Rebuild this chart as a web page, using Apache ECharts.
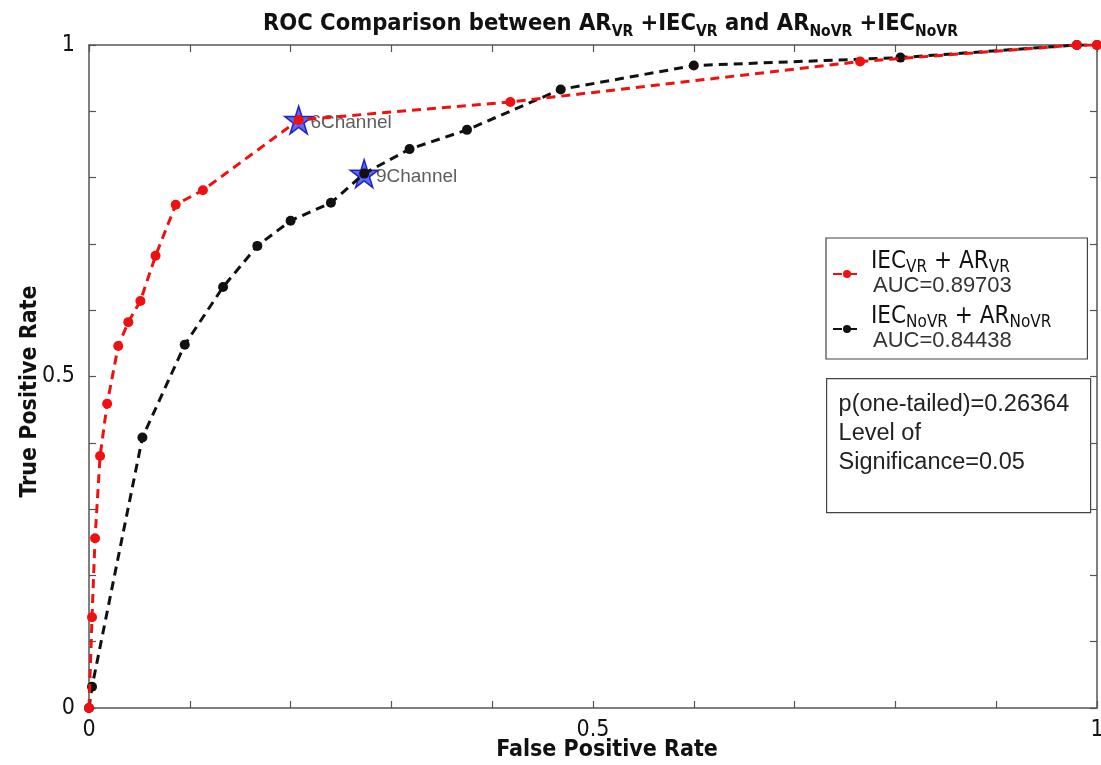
<!DOCTYPE html>
<html><head><meta charset="utf-8">
<script src="https://cdn.jsdelivr.net/npm/echarts@6/dist/echarts.min.js"></script>
<style>html,body{margin:0;padding:0;background:#fff}#c{width:1101px;height:765px}</style>
</head><body><div id="c"></div>
<script>
// ---- data ----
const redFPR = [0, 0.003, 0.006, 0.011, 0.018, 0.029, 0.039, 0.051, 0.066, 0.086, 0.113, 0.208, 0.418, 0.765, 0.980, 1.0];
const redTPR = [0, 0.137, 0.256, 0.380, 0.459, 0.546, 0.582, 0.614, 0.682, 0.759, 0.781, 0.887, 0.914, 0.975, 1.0, 1.0];
const blackFPR = [0, 0.003, 0.053, 0.095, 0.133, 0.167, 0.200, 0.240, 0.273, 0.318, 0.375, 0.468, 0.600, 0.805, 0.980, 1.0];
const blackTPR = [0, 0.032, 0.408, 0.548, 0.635, 0.697, 0.735, 0.762, 0.806, 0.843, 0.872, 0.933, 0.969, 0.981, 1.0, 1.0];
const starPoints = [[0.208, 0.887, '6Channel'], [0.273, 0.806, '9Channel']];
const seriesNames = ['VR', 'NoVR'];
const aucValues = ['0.89703', '0.84438'];
const tickLabels = [0, 0.5, 1];
const statLines = ['p(one-tailed)=0.26364', 'Level of', 'Significance=0.05'];

const zip = (xs, ys) => xs.map((x, i) => [x, ys[i]]);
const showTick = v => tickLabels.some(t => Math.abs(t - v) < 1e-6) ? String(+v.toFixed(2)) : '';
const starPath = 'path://M50,0 L61.8,36.2 L100,36.2 L69.1,58.6 L80.9,95.1 L50,72.7 L19.1,95.1 L30.9,58.6 L0,36.2 L38.2,36.2 Z';
const narrow = '"Liberation Sans Narrow", "DejaVu Sans Condensed", "Liberation Sans", sans-serif';
const arial = '"Liberation Sans", Arial, sans-serif';
const axisCol = '#555';

const chart = echarts.init(document.getElementById('c'));
const baseAxis = {
  type: 'value', min: 0, max: 1, interval: 0.1,
  axisLine: { show: true, onZero: false, lineStyle: { color: axisCol, width: 1.5 } },
  axisTick: { show: true, inside: true, length: 7, lineStyle: { color: axisCol, width: 1.2 } },
  splitLine: { show: false }
};
chart.setOption({
  backgroundColor: '#fff',
  animation: false,
  title: {
    left: 258, top: 3,
    text: '{b|ROC Comparison between AR}{s|VR}{b| +IEC}{s|VR}{b| and AR}{s|NoVR}{b| +IEC}{s|NoVR}',
    textStyle: {
      rich: {
        b: { fontFamily: narrow, fontWeight: 'bold', fontSize: 23.5, color: '#111', verticalAlign: 'bottom', lineHeight: 28 },
        s: { fontFamily: narrow, fontWeight: 'bold', fontSize: 15.5, color: '#111', verticalAlign: 'bottom', lineHeight: 22, padding: [0, 0, -4, 0] }
      }
    }
  },
  grid: { left: 89, right: 4, top: 45, bottom: 57, outerBoundsMode: 'none' },
  xAxis: [
    Object.assign({}, baseAxis, {
      position: 'bottom',
      name: 'False Positive Rate', nameLocation: 'middle', nameGap: 31, nameMoveOverlap: false,
      nameTextStyle: { fontFamily: narrow, fontWeight: 'bold', fontSize: 23, color: '#111', padding: [0, 0, 0, 28] },
      axisLabel: { formatter: showTick, fontFamily: narrow, fontSize: 23, color: '#111', margin: 11 }
    }),
    Object.assign({}, baseAxis, { position: 'top', axisLabel: { show: false } })
  ],
  yAxis: [
    Object.assign({}, baseAxis, {
      position: 'left',
      name: 'True Positive Rate', nameLocation: 'middle', nameGap: 47, nameMoveOverlap: false,
      nameTextStyle: { fontFamily: narrow, fontWeight: 'bold', fontSize: 23, color: '#111', padding: [0, 30, 0, 0] },
      axisLabel: { formatter: showTick, fontFamily: narrow, fontSize: 23, color: '#111', margin: 14 }
    }),
    Object.assign({}, baseAxis, { position: 'right', axisLabel: { show: false } })
  ],
  legend: {
    data: seriesNames, orient: 'vertical', left: 826, top: 238,
    padding: [12, 36, 7, 6], itemGap: 8, itemWidth: 28, itemHeight: 10,
    borderColor: '#444', borderWidth: 1.2, backgroundColor: '#fff',
    formatter: name => {
      const i = seriesNames.indexOf(name);
      return '{f|IEC}{s|' + name + '}{n| + AR}{s|' + name + '}\n{a|AUC=' + aucValues[i] + '}';
    },
    textStyle: {
      rich: {
        f: { fontFamily: narrow, fontSize: 24, color: '#111', verticalAlign: 'bottom', lineHeight: 24, padding: [0, 0, 0, 5] },
        n: { fontFamily: narrow, fontSize: 24, color: '#111', verticalAlign: 'bottom', lineHeight: 24 },
        s: { fontFamily: narrow, fontSize: 17, color: '#111', verticalAlign: 'bottom', lineHeight: 20, padding: [0, 0, -2, 0] },
        a: { fontFamily: arial, fontSize: 22, color: '#333', lineHeight: 24, padding: [0, 0, 0, 7] }
      }
    }
  },
  graphic: [{
    type: 'group', left: 826, top: 378,
    children: [
      { type: 'rect', shape: { x: 0, y: 0, width: 264, height: 134 }, style: { fill: '#fff', stroke: '#444', lineWidth: 1.2 } },
      { type: 'text', x: 12, y: 11, style: { text: statLines.join('\n'), font: '23.5px "Liberation Sans", Arial, sans-serif', fill: '#222', lineHeight: 29 } }
    ]
  }],
  series: [
    {
      type: 'scatter', name: 'stars', data: starPoints.map(p => [p[0], p[1], p[2]]),
      symbol: starPath, symbolSize: 28, z: 2,
      itemStyle: { color: '#3344f0', borderColor: '#0000c0', borderWidth: 1.5 },
      label: { show: true, position: 'right', distance: -3, offset: [0, 3], formatter: p => p.data[2],
        fontFamily: arial, fontSize: 19, color: '#333' }
    },
    {
      type: 'line', name: seriesNames[0], data: zip(redFPR, redTPR), z: 4,
      symbol: 'circle', symbolSize: 10,
      lineStyle: { color: '#f01010', width: 3, type: [9, 6] },
      itemStyle: { color: '#f01010' }
    },
    {
      type: 'line', name: seriesNames[1], data: zip(blackFPR, blackTPR), z: 3,
      symbol: 'circle', symbolSize: 10,
      lineStyle: { color: '#111', width: 3, type: [9, 6] },
      itemStyle: { color: '#111' }
    }
  ]
});
</script></body></html>
